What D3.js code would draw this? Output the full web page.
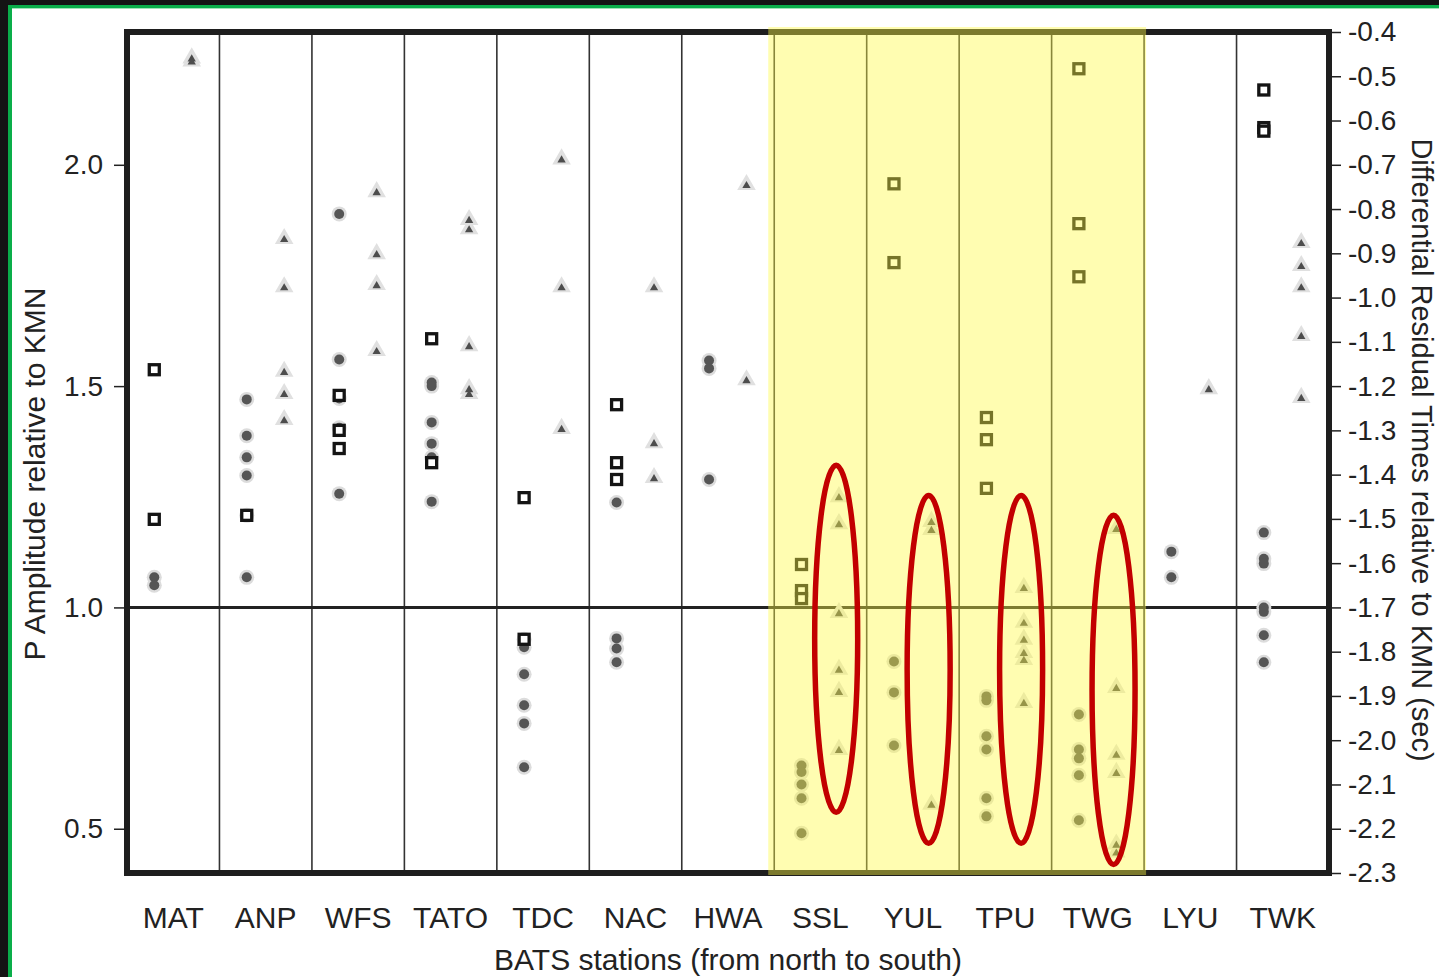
<!DOCTYPE html>
<html><head><meta charset="utf-8">
<script src="https://cdn.jsdelivr.net/npm/d3@7"></script>
<style>html,body{margin:0;padding:0;background:#fff;}svg{display:block;}</style>
</head><body>
<script>
// ---- data ----
const stations = ["MAT","ANP","WFS","TATO","TDC","NAC","HWA","SSL","YUL","TPU","TWG","LYU","TWK"];
const highlighted = ["SSL","YUL","TPU","TWG"];

// P amplitude relative to KMN (left axis), squares
const ampSquares = [
  ["MAT",1.537],["MAT",1.199],
  ["ANP",1.208],
  ["WFS",1.479],["WFS",1.400],["WFS",1.359],
  ["TATO",1.607],["TATO",1.327],
  ["TDC",1.248],["TDC",0.928],
  ["NAC",1.458],["NAC",1.327],["NAC",1.289],
  ["SSL",1.097],["SSL",1.038],["SSL",1.020],
  ["YUL",1.957],["YUL",1.779],
  ["TPU",1.429],["TPU",1.379],["TPU",1.269],
  ["TWG",2.217],["TWG",1.867],["TWG",1.747],
  ["TWK",2.169],["TWK",2.084],["TWK",2.076]
];
// P amplitude relative to KMN (left axis), circles
const ampCircles = [
  ["MAT",1.068],["MAT",1.050],
  ["ANP",1.470],["ANP",1.388],["ANP",1.339],["ANP",1.298],["ANP",1.208],["ANP",1.068],
  ["WFS",1.889],["WFS",1.560],["WFS",1.472],["WFS",1.406],["WFS",1.257],
  ["TATO",1.508],["TATO",1.500],["TATO",1.418],["TATO",1.370],["TATO",1.339],["TATO",1.239],
  ["TDC",0.928],["TDC",0.910],["TDC",0.849],["TDC",0.779],["TDC",0.738],["TDC",0.639],
  ["NAC",1.237],["NAC",0.930],["NAC",0.907],["NAC",0.876],
  ["HWA",1.558],["HWA",1.540],["HWA",1.289],
  ["SSL",0.643],["SSL",0.628],["SSL",0.600],["SSL",0.569],["SSL",0.490],
  ["YUL",0.878],["YUL",0.808],["YUL",0.688],
  ["TPU",0.799],["TPU",0.790],["TPU",0.709],["TPU",0.679],["TPU",0.569],["TPU",0.528],
  ["TWG",0.758],["TWG",0.679],["TWG",0.659],["TWG",0.621],["TWG",0.519],
  ["LYU",1.126],["LYU",1.068],
  ["TWK",1.169],["TWK",1.110],["TWK",1.099],["TWK",1.000],["TWK",0.990],["TWK",0.937],["TWK",0.876]
];
// Differential residual times relative to KMN (right axis, sec), triangles
const residTriangles = [
  ["MAT",-0.459],["MAT",-0.466],
  ["ANP",-0.867],["ANP",-0.976],["ANP",-1.167],["ANP",-1.217],["ANP",-1.276],
  ["WFS",-0.761],["WFS",-0.901],["WFS",-0.971],["WFS",-1.120],
  ["TATO",-0.824],["TATO",-0.845],["TATO",-1.109],["TATO",-1.206],["TATO",-1.217],
  ["TDC",-0.687],["TDC",-0.976],["TDC",-1.296],
  ["NAC",-0.976],["NAC",-1.328],["NAC",-1.407],
  ["HWA",-0.745],["HWA",-1.186],
  ["SSL",-1.450],["SSL",-1.511],["SSL",-1.712],["SSL",-1.840],["SSL",-1.890],["SSL",-2.021],
  ["YUL",-1.506],["YUL",-1.524],["YUL",-2.145],
  ["TPU",-1.655],["TPU",-1.734],["TPU",-1.772],["TPU",-1.802],["TPU",-1.818],["TPU",-1.915],
  ["TWG",-1.522],["TWG",-1.881],["TWG",-2.032],["TWG",-2.073],["TWG",-2.235],["TWG",-2.253],
  ["LYU",-1.206],
  ["TWK",-0.876],["TWK",-0.928],["TWK",-0.976],["TWK",-1.086],["TWK",-1.226]
];
// red ellipse annotations (right-axis extent)
const ellipseStations = ["SSL","YUL","TPU","TWG"];
const ellipseTop = [-1.379,-1.447,-1.447,-1.492];
const ellipseBottom = [-2.163,-2.233,-2.233,-2.281];

const leftTickLabels = [0.5,1.0,1.5,2.0];
const rightTickLabels = [-0.4,-0.5,-0.6,-0.7,-0.8,-0.9,-1.0,-1.1,-1.2,-1.3,-1.4,-1.5,-1.6,-1.7,-1.8,-1.9,-2.0,-2.1,-2.2,-2.3];
const leftDomain = [0.4, 2.3];
const rightDomain = [-2.3, -0.4];
const refLine = 1.0;

// ---- chart ----
const W = 1439, H = 977;
const M = {left:127, right:1329, top:32, bottom:873};
const FONT = "'Liberation Sans', Arial, Helvetica, sans-serif";

const svg = d3.select("body").append("svg").attr("width", W).attr("height", H);
svg.append("rect").attr("width", W).attr("height", H).attr("fill", "#fff");
// window border (top/left)
svg.append("rect").attr("x",0).attr("y",0).attr("width",W).attr("height",5).attr("fill","#141414");
svg.append("rect").attr("x",0).attr("y",5).attr("width",W).attr("height",3).attr("fill","#0aae4a");
svg.append("rect").attr("x",0).attr("y",8).attr("width",W).attr("height",1).attr("fill","#9fe3b8");
svg.append("rect").attr("x",0).attr("y",0).attr("width",8).attr("height",H).attr("fill","#141414");
svg.append("rect").attr("x",8).attr("y",5).attr("width",4).attr("height",H).attr("fill","#0aae4a");

const x = d3.scaleBand().domain(stations).range([M.left, M.right]).padding(0);
const bw = x.bandwidth();
const y = d3.scaleLinear().domain(leftDomain).range([M.bottom, M.top]);
const yR = d3.scaleLinear().domain(rightDomain).range([M.bottom, M.top]);

// vertical dividers
svg.append("g").selectAll("line").data(stations.slice(1)).join("line")
  .attr("x1", d => x(d)).attr("x2", d => x(d))
  .attr("y1", M.top).attr("y2", M.bottom)
  .attr("stroke", "#333").attr("stroke-width", 1.6);

// reference line at 1.0
svg.append("line").attr("x1", M.left).attr("x2", M.right)
  .attr("y1", y(refLine)).attr("y2", y(refLine))
  .attr("stroke", "#222").attr("stroke-width", 3);

const leftX = d => x(d[0]) + bw * 0.295;
const triX = d => x(d[0]) + bw * 0.70;

// circles
const gc = svg.append("g");
gc.selectAll("circle.h").data(ampCircles).join("circle").attr("class","h")
  .attr("cx", leftX).attr("cy", d => y(d[1])).attr("r", 7.5).attr("fill", "#dcdcdc");
gc.selectAll("circle.c").data(ampCircles).join("circle").attr("class","c")
  .attr("cx", leftX).attr("cy", d => y(d[1])).attr("r", 5).attr("fill", "#555");

// squares
svg.append("g").selectAll("rect").data(ampSquares).join("rect")
  .attr("x", d => leftX(d) - 5).attr("y", d => y(d[1]) - 5)
  .attr("width", 10).attr("height", 10)
  .attr("fill", "#fff").attr("stroke", "#141414").attr("stroke-width", 3.3);

// triangles
const triBig = d3.symbol().type(d3.symbolTriangle).size(150);
const triSmall = d3.symbol().type(d3.symbolTriangle).size(30);
const gt = svg.append("g");
gt.selectAll("path.h").data(residTriangles).join("path").attr("class","h")
  .attr("d", triBig).attr("transform", d => `translate(${triX(d)},${yR(d[1])})`)
  .attr("fill", "#e0e0e0");
gt.selectAll("path.c").data(residTriangles).join("path").attr("class","c")
  .attr("d", triSmall).attr("transform", d => `translate(${triX(d)},${yR(d[1]) + 1})`)
  .attr("fill", "#4d4d4d");

// frame
svg.append("rect").attr("x", M.left).attr("y", M.top)
  .attr("width", M.right - M.left).attr("height", M.bottom - M.top)
  .attr("fill", "none").attr("stroke", "#1e1e1e").attr("stroke-width", 6);

const fmt = d => d.toFixed(1);

// left axis
const leftMinor = d3.range(4, 24).map(v => v / 10);
const la = svg.append("g").attr("transform", `translate(${M.left - 3},0)`);
la.call(d3.axisLeft(y).tickValues(leftMinor).tickSize(6).tickFormat(""));
la.call(d3.axisLeft(y).tickValues(leftTickLabels).tickSize(10).tickPadding(11).tickFormat(fmt));
la.select(".domain").remove();
la.selectAll("line").attr("stroke", "#222").attr("stroke-width", 1.5);
la.selectAll("text").attr("font-family", FONT).attr("font-size", 28).attr("fill", "#222");

// right axis
const ra = svg.append("g").attr("transform", `translate(${M.right + 3},0)`);
ra.call(d3.axisRight(yR).tickValues(rightTickLabels).tickSize(9).tickPadding(7).tickFormat(fmt));
ra.select(".domain").remove();
ra.selectAll("line").attr("stroke", "#222").attr("stroke-width", 1.5);
ra.selectAll("text").attr("font-family", FONT).attr("font-size", 28).attr("fill", "#222");

// station labels
svg.append("g").selectAll("text").data(stations).join("text")
  .attr("x", d => x(d) + bw / 2).attr("y", 928)
  .attr("text-anchor", "middle").attr("font-family", FONT).attr("font-size", 30).attr("fill", "#222")
  .text(d => d);

// axis titles
svg.append("text").attr("x", (M.left + M.right) / 2).attr("y", 970)
  .attr("text-anchor", "middle").attr("font-family", FONT).attr("font-size", 30).attr("fill", "#222")
  .text("BATS stations (from north to south)");
svg.append("text").attr("transform", "translate(45,474) rotate(-90)")
  .attr("text-anchor", "middle").attr("font-family", FONT).attr("font-size", 30).attr("fill", "#222")
  .text("P Amplitude relative to KMN");
svg.append("text").attr("transform", "translate(1412,450) rotate(90)")
  .attr("text-anchor", "middle").attr("font-family", FONT).attr("font-size", 29).attr("fill", "#222")
  .text("Differential Residual Times relative to KMN (sec)");

// yellow highlight overlay
const hx0 = x(highlighted[0]) - 6;
const hx1 = x(highlighted[highlighted.length - 1]) + bw + 2;
svg.append("rect").attr("x", hx0).attr("y", M.top - 5)
  .attr("width", hx1 - hx0).attr("height", M.bottom - M.top + 7)
  .attr("fill", "rgb(255,250,70)").attr("fill-opacity", 0.42);

// red ellipses
svg.append("g").selectAll("ellipse").data(ellipseStations).join("ellipse")
  .attr("cx", d => x(d) + bw * 0.67)
  .attr("cy", (d, i) => (yR(ellipseTop[i]) + yR(ellipseBottom[i])) / 2)
  .attr("rx", 21.5)
  .attr("ry", (d, i) => (yR(ellipseBottom[i]) - yR(ellipseTop[i])) / 2)
  .attr("fill", "none").attr("stroke", "#c20000").attr("stroke-width", 5.5);
</script>
</body></html>
